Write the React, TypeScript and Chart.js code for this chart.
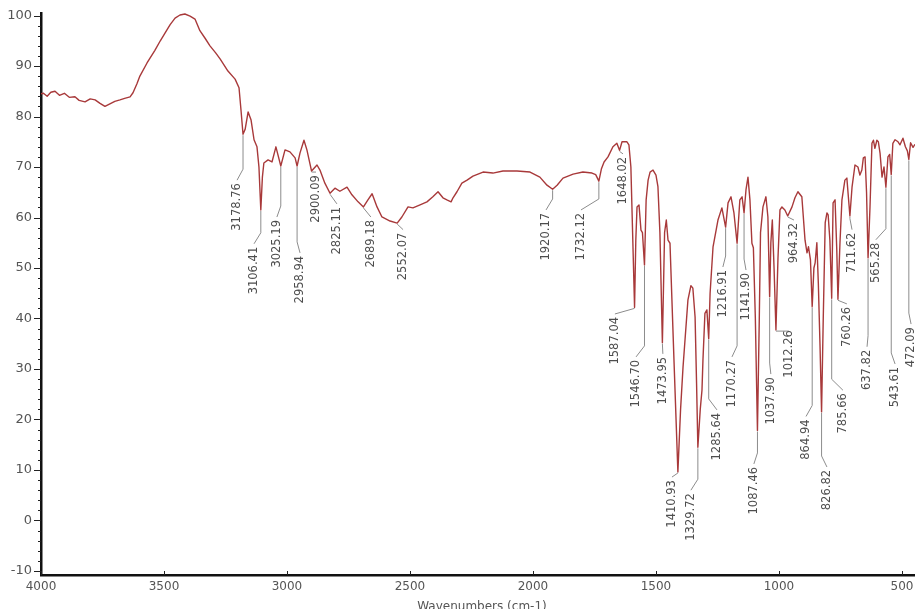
import { useEffect, useRef } from 'react';
import { Chart, registerables } from 'chart.js';

Chart.register(...registerables);

// Spectrum samples: wavenumber (cm-1) and % transmittance
const wavenumbers = [
  4000, 3990, 3975, 3960, 3943, 3925, 3905, 3885, 3862, 3845, 3821, 3800, 3780, 3760, 3740, 3720,
  3700, 3679, 3660, 3638, 3626, 3610, 3598, 3569, 3537, 3515, 3496, 3475, 3455, 3435, 3415, 3394,
  3374, 3354, 3333, 3313, 3290, 3272, 3240, 3211, 3195, 3187, 3178.76, 3170, 3158, 3146, 3134, 3122,
  3114, 3106.41, 3100, 3094, 3077, 3061, 3045, 3025.19, 3008, 2988, 2967, 2958.94, 2947, 2931, 2919,
  2900.09, 2878, 2866, 2846, 2825.11, 2805, 2785, 2756, 2736, 2711, 2689.18, 2671, 2654, 2634, 2614,
  2581, 2552.07, 2533, 2508, 2488, 2459, 2431, 2407, 2386, 2366, 2350, 2333, 2325, 2309, 2289, 2268,
  2244, 2203, 2163, 2122, 2065, 2012, 1972, 1943, 1920.17, 1902, 1878, 1837, 1797, 1760, 1745,
  1732.12, 1722, 1711, 1695, 1675, 1659, 1648.02, 1638, 1618, 1610, 1602, 1595, 1587.04, 1582, 1577,
  1569, 1561, 1555, 1546.7, 1540, 1532, 1524, 1512, 1500, 1492, 1484, 1473.95, 1465, 1458, 1451, 1443,
  1427, 1410.93, 1400, 1390, 1370, 1358, 1350, 1341, 1335, 1329.72, 1320, 1313, 1309, 1301, 1293,
  1285.64, 1280, 1268, 1248, 1232, 1216.91, 1207, 1195, 1183, 1170.27, 1159, 1150, 1141.9, 1134, 1126,
  1118, 1110, 1104, 1096, 1087.46, 1080, 1075, 1065, 1053, 1045, 1037.9, 1033, 1027, 1020, 1012.26,
  1004, 996, 988, 976, 964.32, 947, 935, 923, 907, 894, 886, 880, 872, 864.94, 858, 853, 846, 840,
  833, 826.82, 820, 812, 805, 800, 793, 785.66, 780, 772, 765, 760.26, 752, 744, 732, 724, 711.62,
  703, 691, 679, 671, 663, 657, 650, 644, 637.82, 630, 622, 616, 610, 602, 596, 589, 581, 573, 565.28,
  557, 550, 543.61, 537, 528, 516, 508, 496, 486, 478, 472.09, 465, 455, 447,
];

const transmittance = [
  84.5, 84.6, 84.0, 84.8, 85.0, 84.2, 84.6, 83.8, 83.9, 83.2, 82.9, 83.5, 83.3, 82.6, 82.0, 82.5,
  83.0, 83.3, 83.6, 83.9, 84.7, 86.5, 88.0, 90.6, 93.1, 95.0, 96.5, 98.2, 99.5, 100.1, 100.3, 99.9,
  99.3, 97.0, 95.5, 94.0, 92.6, 91.4, 89.0, 87.4, 85.7, 81.3, 76.5, 77.5, 80.9, 79.3, 75.4, 74.0,
  70.0, 61.5, 68.0, 70.8, 71.4, 71.0, 74.0, 70.2, 73.4, 73.0, 71.8, 70.2, 72.8, 75.3, 73.4,
  69.2, 70.4, 69.4, 66.8, 64.8, 65.8, 65.2, 66.0, 64.5, 63.1, 62.1, 63.5, 64.7, 62.1, 60.1,
  59.3, 58.9, 60.1, 62.1, 61.9, 62.5, 63.1, 64.1, 65.1, 63.9, 63.5, 63.1, 63.9, 65.1, 66.8, 67.4,
  68.2, 69.0, 68.8, 69.2, 69.2, 69.0, 68.0, 66.4, 65.6, 66.4, 67.8, 68.6, 69.0, 68.8, 68.5,
  67.2, 69.6, 71.0, 72.0, 74.0, 74.7, 73.3, 75.0, 75.0, 74.4, 70.0, 57.0, 42.2, 55.5, 62.1,
  62.5, 57.5, 57.0, 50.6, 63.5, 67.4, 69.0, 69.4, 68.4, 66.1, 57.0, 35.2, 57.0, 59.5, 55.5, 54.9,
  32.0, 9.6, 22.0, 30.4, 43.7, 46.5, 46.0, 40.3, 27.2, 14.5, 22.0, 25.8, 31.8, 41.0, 41.7,
  36.0, 45.0, 54.2, 59.5, 61.9, 58.1, 62.9, 64.1, 60.9, 54.9, 63.5, 64.1, 60.9, 65.5, 68.0,
  63.5, 54.9, 54.0, 40.0, 17.8, 40.0, 57.0, 62.1, 64.1, 60.1, 44.3, 55.0, 59.5, 50.0, 37.7,
  52.0, 61.5, 62.1, 61.5, 60.3, 62.1, 63.9, 65.1, 64.1, 55.5, 53.0, 54.2, 51.6, 42.3, 50.0, 51.0, 55.0, 47.0,
  34.4, 21.5, 40.0, 59.0, 60.9, 60.5, 55.5, 44.0, 62.9, 63.5, 53.6, 43.8, 55.0, 63.5, 67.4, 67.8, 60.3,
  66.0, 70.4, 70.0, 68.4, 69.4, 71.8, 72.0, 65.0, 52.0, 62.0, 74.7, 75.3, 73.7, 75.3, 75.0, 72.7, 68.0, 70.0, 66.0,
  72.0, 72.5, 68.5, 74.7, 75.4, 75.0, 74.4, 75.7, 74.0, 73.2, 71.5, 74.8, 73.9, 74.5,
];

// Axis ticks
const xTickValues = [4000, 3500, 3000, 2500, 2000, 1500, 1000, 500];
const yTickValues = [-10, 0, 10, 20, 30, 40, 50, 60, 70, 80, 90, 100];
const yMinorStep = 2;

// Picked peaks
const peakWavenumbers = [
  3178.76, 3106.41, 3025.19, 2958.94, 2900.09, 2825.11, 2689.18, 2552.07, 1920.17, 1732.12,
  1648.02, 1587.04, 1546.7, 1473.95, 1410.93, 1329.72, 1285.64, 1216.91, 1170.27, 1141.9,
  1087.46, 1037.9, 1012.26, 964.32, 864.94, 826.82, 785.66, 760.26, 711.62, 637.82, 565.28,
  543.61, 472.09,
];

// Where each peak caption sits: column (cm-1) and the level of its upper end (%T)
const peakLabelColumn = [
  3203, 3134, 3041, 2947, 2882, 2797, 2659, 2528, 1947, 1805,
  1634, 1667, 1581, 1472, 1435, 1358, 1252, 1228, 1191, 1134,
  1102, 1033, 959, 939, 890, 805, 740, 724, 703, 642, 606,
  528, 463,
];
const peakLabelTop = [
  66.8, 54.2, 59.5, 52.4, 68.4, 62.1, 59.5, 57.0, 60.9, 60.9,
  72.0, 40.3, 31.8, 32.4, 8.0, 5.4, 21.3, 49.6, 31.8, 49.0,
  10.6, 28.4, 37.7, 58.9, 20.0, 10.0, 25.2, 42.3, 57.0, 33.8, 55.0,
  30.4, 38.3,
];

const xAxisTitle = 'Wavenumbers (cm-1)';

const FONT = '"DejaVu Sans", "Liberation Sans", sans-serif';

function transmittanceAt(wn: number): number {
  for (let i = 0; i < wavenumbers.length - 1; i++) {
    const a = wavenumbers[i];
    const b = wavenumbers[i + 1];
    if (wn <= a && wn >= b) {
      const t = a === b ? 0 : (a - wn) / (a - b);
      return transmittance[i] + t * (transmittance[i + 1] - transmittance[i]);
    }
  }
  return transmittance[transmittance.length - 1];
}

const peakLabelPlugin = {
  id: 'peakLabels',
  afterDatasetsDraw(chart: any) {
    const { ctx } = chart;
    const xs = chart.scales.x;
    const ys = chart.scales.y;
    ctx.save();
    ctx.lineWidth = 1;
    ctx.strokeStyle = '#8c8c8c';
    ctx.fillStyle = '#4d4d4d';
    ctx.font = `11.5px ${FONT}`;
    peakWavenumbers.forEach((wn, i) => {
      const x0 = xs.getPixelForValue(wn);
      const y0 = ys.getPixelForValue(transmittanceAt(wn));
      const xt = xs.getPixelForValue(peakLabelColumn[i]);
      const yt = ys.getPixelForValue(peakLabelTop[i]);
      const elbow = Math.max(y0 + 1, yt - 14);
      const endY = Math.max(elbow, yt - 3);
      ctx.beginPath();
      ctx.moveTo(x0, y0 + 1);
      ctx.lineTo(x0, elbow);
      ctx.lineTo(xt, endY);
      ctx.stroke();
      ctx.save();
      ctx.translate(xt, yt);
      ctx.rotate(-Math.PI / 2);
      ctx.textAlign = 'right';
      ctx.textBaseline = 'middle';
      ctx.fillText(wn.toFixed(2), 0, 0);
      ctx.restore();
    });
    ctx.restore();
  },
};

const axisDecorPlugin = {
  id: 'axisDecor',
  afterDraw(chart: any) {
    const { ctx, chartArea } = chart;
    const xs = chart.scales.x;
    const ys = chart.scales.y;
    ctx.save();
    ctx.strokeStyle = '#222';
    ctx.lineWidth = 1;
    // y ticks: long at labelled values, short in between
    const yLo = yTickValues[0];
    const yHi = yTickValues[yTickValues.length - 1];
    for (let v = yLo; v <= yHi; v += yMinorStep) {
      const py = Math.round(ys.getPixelForValue(v)) + 0.5;
      const len = v % 10 === 0 ? 7 : 3;
      ctx.beginPath();
      ctx.moveTo(chartArea.left - len, py);
      ctx.lineTo(chartArea.left, py);
      ctx.stroke();
    }
    // x ticks point into the plot
    xTickValues.forEach((v) => {
      const px = Math.round(xs.getPixelForValue(v)) + 0.5;
      ctx.beginPath();
      ctx.moveTo(px, chartArea.bottom);
      ctx.lineTo(px, chartArea.bottom - 4);
      ctx.stroke();
    });
    // axis title along the bottom edge
    ctx.fillStyle = '#555';
    ctx.font = `12px ${FONT}`;
    ctx.textAlign = 'center';
    ctx.textBaseline = 'alphabetic';
    ctx.fillText(xAxisTitle, (chartArea.left + chartArea.right) / 2 + 4, chart.height + 1);
    ctx.restore();
  },
};

export default function App() {
  const canvasRef = useRef<HTMLCanvasElement | null>(null);

  useEffect(() => {
    if (!canvasRef.current) return;
    const points = wavenumbers.map((w, i) => ({ x: w, y: transmittance[i] }));
    const chart = new Chart(canvasRef.current, {
      type: 'line',
      data: {
        datasets: [
          {
            data: points,
            borderColor: '#a8393a',
            borderWidth: 1.4,
            pointRadius: 0,
            tension: 0,
            borderJoinStyle: 'round',
            fill: false,
          },
        ],
      },
      options: {
        animation: false,
        responsive: false,
        devicePixelRatio: 1,
        parsing: false,
        layout: { padding: { top: 13, left: 0, right: 0, bottom: 0 } },
        plugins: { legend: { display: false }, tooltip: { enabled: false }, title: { display: false } },
        scales: {
          x: {
            type: 'linear',
            reverse: true,
            min: 447,
            max: 4000,
            afterBuildTicks: (s: any) => {
              s.ticks = xTickValues.map((v) => ({ value: v }));
            },
            afterFit: (s: any) => {
              s.height = 34;
              s.paddingLeft = 0;
              s.paddingRight = 0;
            },
            grid: { display: false, drawTicks: false },
            border: { display: true, color: '#111', width: 2.5 },
            ticks: {
              padding: 5,
              autoSkip: false,
              maxRotation: 0,
              color: '#555',
              font: { family: FONT, size: 12 },
              callback: (v: any) => String(v),
            },
          },
          y: {
            type: 'linear',
            min: -10.8,
            max: 100.5,
            afterBuildTicks: (s: any) => {
              s.ticks = yTickValues.map((v) => ({ value: v }));
            },
            afterFit: (s: any) => {
              s.width = 41;
              s.paddingTop = 0;
              s.paddingBottom = 0;
            },
            grid: { display: false, drawTicks: false },
            border: { display: true, color: '#111', width: 2.5 },
            ticks: {
              padding: 9,
              color: '#555',
              font: { family: FONT, size: 13 },
              callback: (v: any) => String(v),
            },
          },
        },
      },
      plugins: [peakLabelPlugin, axisDecorPlugin],
    });
    return () => chart.destroy();
  }, []);

  return (
    <div style={{ position: 'fixed', left: 0, top: 0, width: 915, height: 609, background: '#fff' }}>
      <canvas ref={canvasRef} width={915} height={609} style={{ display: 'block', width: 915, height: 609 }} />
    </div>
  );
}
